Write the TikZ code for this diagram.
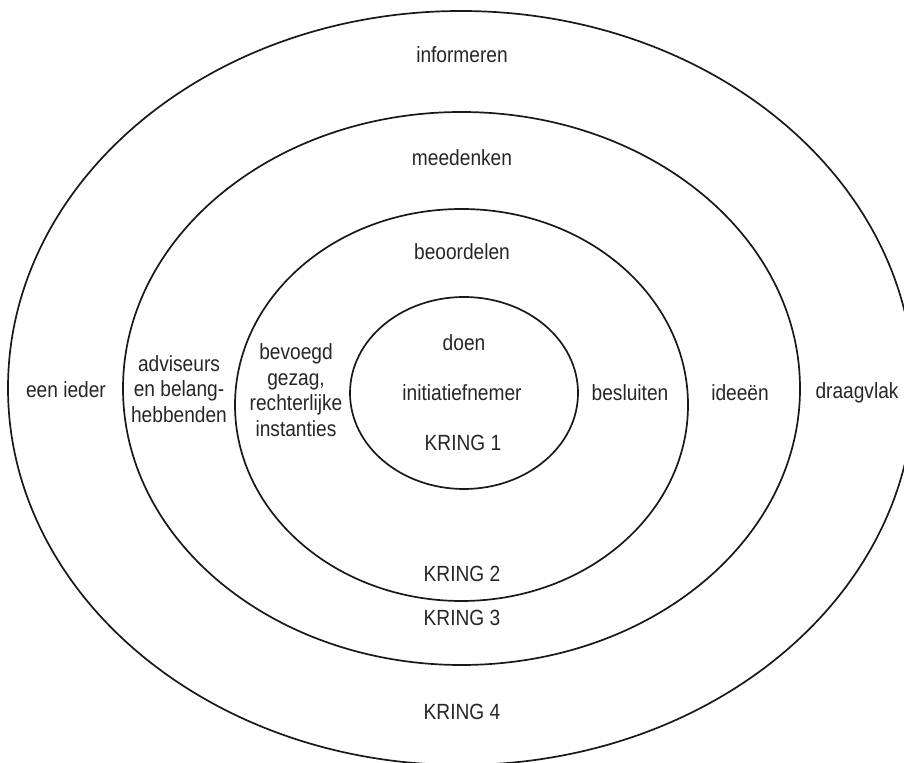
\documentclass[tikz,border=0pt]{standalone}
\usepackage{fontspec}
\setmainfont[FakeStretch=0.87]{Liberation Sans}
\usetikzlibrary{shapes.geometric}
\begin{document}
\begin{tikzpicture}[x=0.5pt,y=-0.5pt,
  ring/.style={draw=black!90, line width=0.85pt, ellipse, inner sep=0pt, outer sep=0pt},
  lbl/.style={font=\fontsize{11}{12.8}\selectfont, text=black!85, align=center, inner sep=0pt}]
  \useasboundingbox (0,0) rectangle (904,763);
  % concentric circles
  \node[ring, minimum width=453pt, minimum height=377pt] (k4) at (461,388) {};
  \node[ring, minimum width=338.5pt, minimum height=276.5pt] (k3) at (461.5,388.5) {};
  \node[ring, minimum width=226.5pt, minimum height=196pt] (k2) at (461.5,405) {};
  \node[ring, minimum width=114pt, minimum height=96pt] (k1) at (464,393) {};
  % circle 4
  \node[lbl] (informeren) at (462,55) {informeren};
  \node[lbl] (ieder) at (66,390) {een ieder};
  \node[lbl] (draagvlak) at (857,393) {draagvlak};
  \node[lbl] (kring4) at (462,712) {KRING 4};
  % circle 3
  \node[lbl] (meedenken) at (462,158) {meedenken};
  \node[lbl] (adviseurs) at (179,389) {adviseurs\\en belang-\\hebbenden};
  \node[lbl] (ideeen) at (740,393) {ideeën};
  \node[lbl] (kring3) at (462,618) {KRING 3};
  % circle 2
  \node[lbl] (beoordelen) at (462,252) {beoordelen};
  \node[lbl] (bevoegd) at (296,390) {bevoegd\\gezag,\\rechterlijke\\instanties};
  \node[lbl] (besluiten) at (630,393) {besluiten};
  \node[lbl] (kring2) at (462,574) {KRING 2};
  % circle 1
  \node[lbl] (doen) at (464,343) {doen};
  \node[lbl] (initiatief) at (462,393) {initiatiefnemer};
  \node[lbl] (kring1) at (463,443) {KRING 1};
\end{tikzpicture}
\end{document}
